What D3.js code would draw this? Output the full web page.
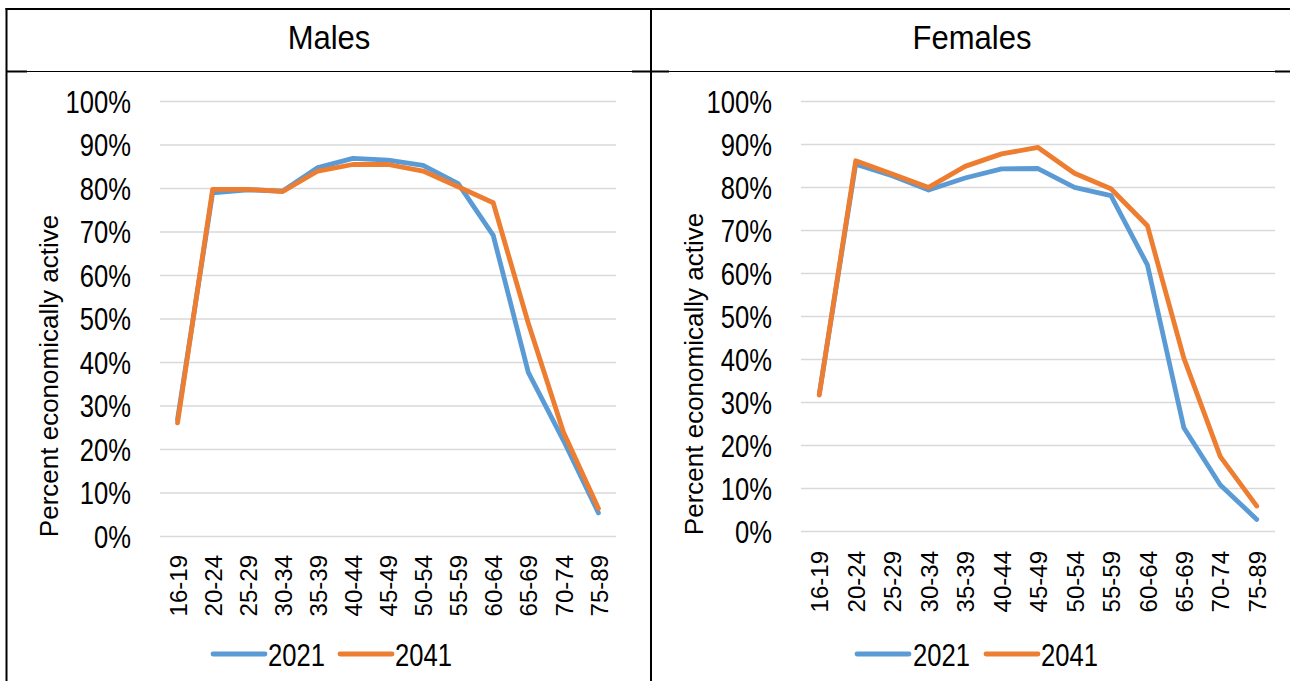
<!DOCTYPE html>
<html>
<head>
<meta charset="utf-8">
<script src="https://cdn.jsdelivr.net/npm/d3@7"></script>
<style>
  html, body { margin: 0; padding: 0; background: #fff; }
  svg { display: block; font-family: "Liberation Sans", Arial, sans-serif; }
</style>
</head>
<body>
<svg id="chart" width="1290" height="681"></svg>
<script>
// ---- data ----
const categories = ["16-19","20-24","25-29","30-34","35-39","40-44","45-49","50-54","55-59","60-64","65-69","70-74","75-89"];
const seriesNames = ["2021", "2041"];
const males2021   = [26.8, 78.9, 79.6, 79.3, 84.7, 86.8, 86.4, 85.2, 81.0, 69.1, 37.6, 22.0, 5.3];
const males2041   = [26.0, 79.7, 79.7, 79.2, 83.9, 85.4, 85.4, 83.9, 80.3, 76.6, 48.9, 23.9, 6.3];
const females2021 = [31.8, 85.3, 82.6, 79.3, 82.1, 84.2, 84.3, 79.9, 78.0, 61.9, 24.0, 10.7, 2.7];
const females2041 = [31.6, 86.1, 83.0, 79.9, 84.8, 87.7, 89.2, 83.2, 79.6, 71.0, 40.2, 17.3, 5.8];
const yTicks = [0, 10, 20, 30, 40, 50, 60, 70, 80, 90, 100];
const panelTitles = ["Males", "Females"];
const yAxisTitle = "Percent economically active";

const colors = ["#5B9BD5", "#ED7D31"];
const condense = 0.8;   // horizontal squeeze of tick/legend glyphs

const svg = d3.select("#chart");

// ---- table frame ----
const frame = svg.append("g").attr("stroke", "#000");
frame.append("line").attr("x1", 5.5).attr("x2", 1290).attr("y1", 9).attr("y2", 9).attr("stroke-width", 2);
frame.append("line").attr("x1", 6.5).attr("x2", 6.5).attr("y1", 8).attr("y2", 681).attr("stroke-width", 2);
frame.append("line").attr("x1", 651).attr("x2", 651).attr("y1", 8).attr("y2", 681).attr("stroke-width", 2);
frame.append("line").attr("x1", 6).attr("x2", 1290).attr("y1", 71.5).attr("y2", 71.5).attr("stroke-width", 1);
[[6, 27], [632, 669], [1275, 1290]].forEach(([a, b]) => {
  frame.append("line").attr("x1", a).attr("x2", b).attr("y1", 71.5).attr("y2", 71.5).attr("stroke-width", 2);
});

// ---- panels ----
const panels = [
  { title: panelTitles[0], titleX: 329, series: [males2021, males2041],
    x0: 160, x1: 616, yTop: 101, yBot: 536, tickRight: 131, labelGap: 19,
    axisTitleX: 58, axisTitleY: 376,
    legend: [{ lx: 213, tx: 268 }, { lx: 340, tx: 395 }] },
  { title: panelTitles[1], titleX: 972, series: [females2021, females2041],
    x0: 801, x1: 1275, yTop: 101, yBot: 531, tickRight: 772, labelGap: 20,
    axisTitleX: 703, axisTitleY: 374,
    legend: [{ lx: 857, tx: 913 }, { lx: 986, tx: 1041 }] }
];

panels.forEach(p => {
  const g = svg.append("g");

  g.append("text")
    .attr("transform", `translate(${p.titleX},49) scale(0.94,1)`)
    .attr("text-anchor", "middle")
    .attr("font-size", 33)
    .attr("fill", "#000")
    .text(p.title);

  const x = d3.scalePoint().domain(categories).range([p.x0, p.x1]).padding(0.5);
  const y = d3.scaleLinear().domain([0, 100]).range([p.yBot, p.yTop]);

  // gridlines
  const grid = g.append("g")
    .attr("transform", `translate(${p.x0},0)`)
    .call(d3.axisLeft(y).tickValues(yTicks).tickSize(-(p.x1 - p.x0)).tickFormat(""));
  grid.select(".domain").remove();
  grid.selectAll("line").attr("stroke", "#D9D9D9").attr("stroke-width", 1.5);

  // y tick labels
  const pad = p.x0 - p.tickRight;
  const yAx = g.append("g")
    .attr("transform", `translate(${p.x0},0)`)
    .call(d3.axisLeft(y).tickValues(yTicks).tickSize(0).tickPadding(pad).tickFormat(d => d + "%"));
  yAx.select(".domain").remove();
  yAx.selectAll("text")
    .attr("font-size", 32).attr("fill", "#000")
    .attr("font-family", "Liberation Sans, Arial, sans-serif")
    .attr("x", -pad / condense)
    .attr("dy", "0.35em")
    .attr("transform", `scale(${condense},1)`);

  // x tick labels (rotated)
  const xAx = g.append("g")
    .attr("transform", `translate(0,${p.yBot})`)
    .call(d3.axisBottom(x).tickSize(0));
  xAx.select(".domain").remove();
  xAx.selectAll("text")
    .attr("font-size", 24).attr("fill", "#000")
    .attr("font-family", "Liberation Sans, Arial, sans-serif")
    .attr("transform", "rotate(-90)")
    .attr("text-anchor", "end")
    .attr("x", -p.labelGap).attr("y", 0).attr("dy", "0.36em");

  // axis title
  g.append("text")
    .attr("transform", `translate(${p.axisTitleX},${p.axisTitleY}) rotate(-90)`)
    .attr("text-anchor", "middle")
    .attr("font-size", 26)
    .attr("fill", "#000")
    .text(yAxisTitle);

  // lines
  const line = d3.line().x((d, i) => x(categories[i])).y(d => y(d));
  p.series.forEach((s, si) => {
    g.append("path")
      .datum(s)
      .attr("d", line)
      .attr("fill", "none")
      .attr("stroke", colors[si])
      .attr("stroke-width", 4.8)
      .attr("stroke-linejoin", "round")
      .attr("stroke-linecap", "round");
  });

  // legend
  p.legend.forEach((l, si) => {
    g.append("line")
      .attr("x1", l.lx).attr("x2", l.lx + 52)
      .attr("y1", 654).attr("y2", 654)
      .attr("stroke", colors[si]).attr("stroke-width", 4.8)
      .attr("stroke-linecap", "round");
    g.append("text")
      .attr("transform", `translate(${l.tx},665.5) scale(${condense},1)`)
      .attr("font-size", 32).attr("fill", "#000")
      .text(seriesNames[si]);
  });
});
</script>
</body>
</html>
